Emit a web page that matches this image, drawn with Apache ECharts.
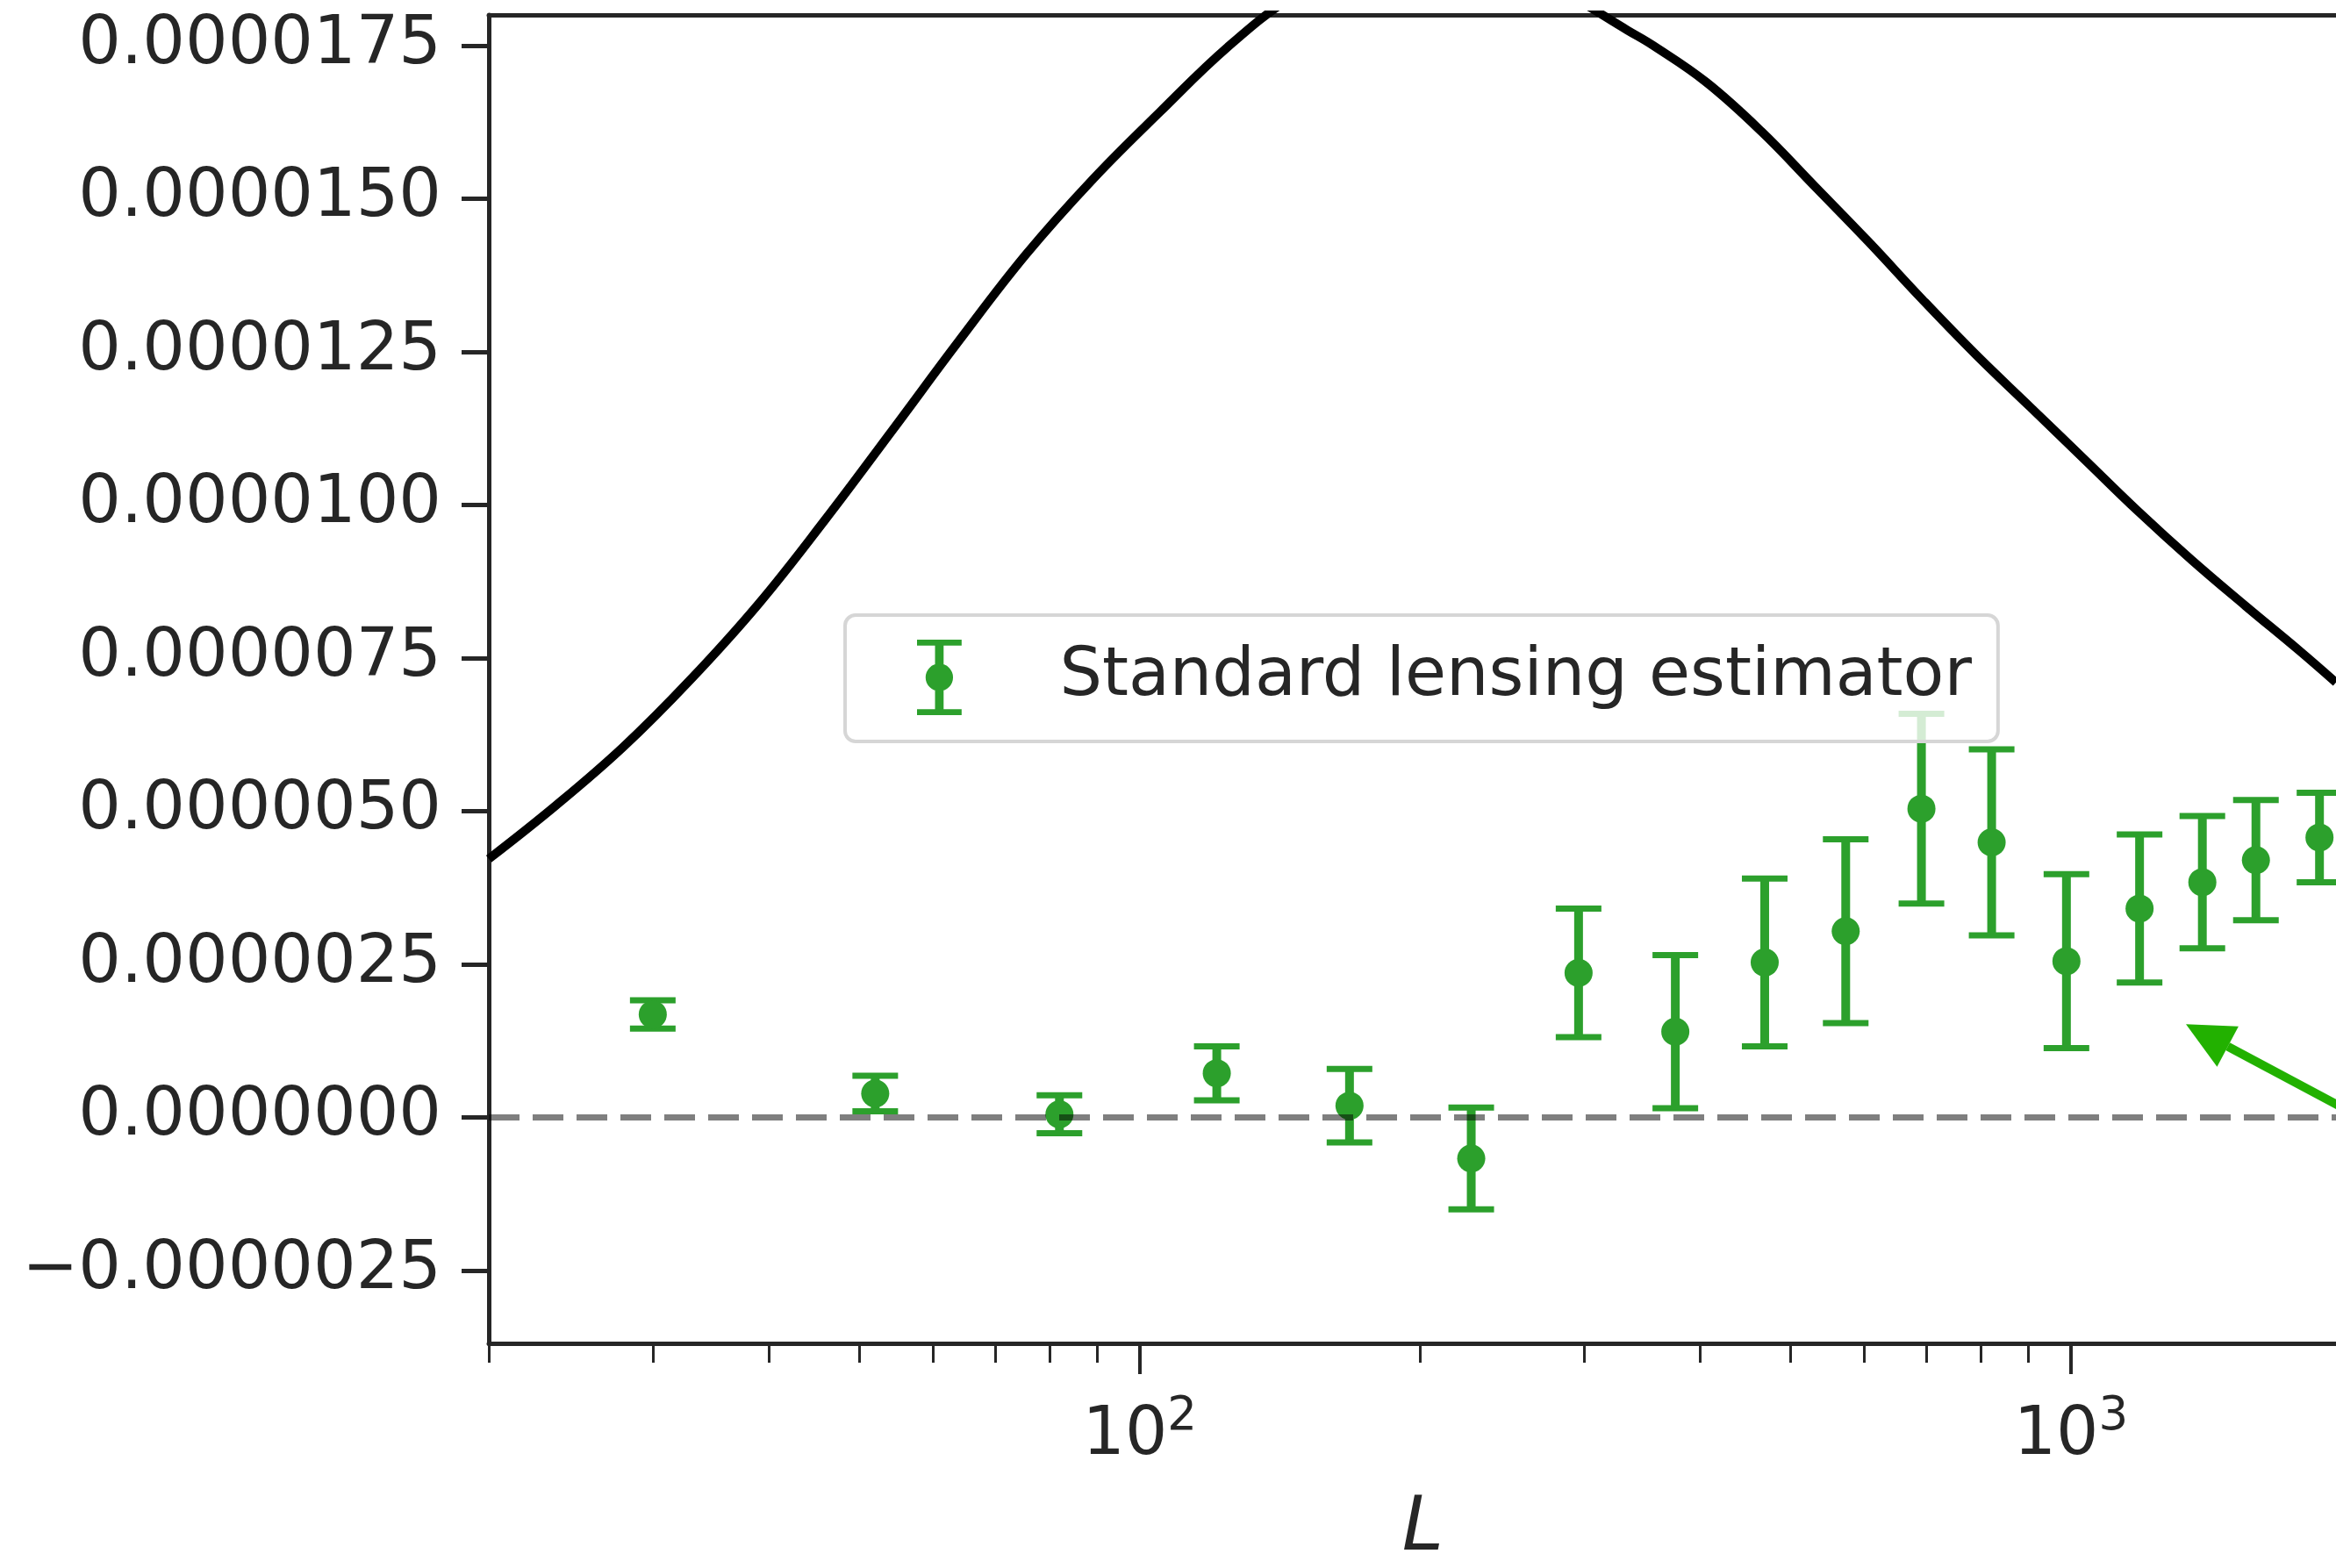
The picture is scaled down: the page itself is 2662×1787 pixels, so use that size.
<!DOCTYPE html>
<html>
<head>
<meta charset="utf-8">
<script src="https://cdn.jsdelivr.net/npm/echarts@6/dist/echarts.min.js"></script>
<style>
  html, body { margin: 0; padding: 0; background: #fff; }
  #chart { width: 2662px; height: 1787px; }
</style>
</head>
<body>
<div id="chart"></div>
<script>
// binned estimator points (multipole L, value, 1-sigma error)
const binL = [30, 52, 82, 121, 168, 227, 296, 376, 469, 573, 691, 822, 989, 1185, 1384, 1580, 1849]
const binValue = [1.68e-6, 0.39e-6, 0.05e-6, 0.72e-6, 0.19e-6, -0.67e-6, 2.36e-6, 1.40e-6, 2.53e-6, 3.04e-6,
  5.04e-6, 4.49e-6, 2.55e-6, 3.41e-6, 3.84e-6, 4.20e-6, 4.57e-6]
const binError = [0.23e-6, 0.29e-6, 0.31e-6, 0.44e-6, 0.60e-6, 0.83e-6, 1.05e-6, 1.25e-6, 1.37e-6, 1.50e-6,
  1.55e-6, 1.52e-6, 1.42e-6, 1.21e-6, 1.08e-6, 0.98e-6, 0.73e-6]

// theory curve
const theoryL = [20, 23.6, 27.9, 32.9, 38.9, 45.9, 54.2, 63.9, 75.5, 89.1, 105.2, 124.2, 146, 172, 203, 240,
  283, 334, 356, 406, 465, 531, 606, 693, 791, 904, 1033, 1180, 1348, 1540, 1759, 1926]
const theoryValue = [4.22e-6, 5.09e-6, 6.05e-6, 7.14e-6, 8.37e-6, 9.75e-6, 11.21e-6, 12.67e-6, 14.09e-6,
  15.32e-6, 16.42e-6, 17.47e-6, 18.3e-6, 18.85e-6, 19.05e-6, 18.9e-6, 18.4e-6, 17.75e-6, 17.5e-6,
  16.9e-6, 16.1e-6, 15.2e-6, 14.3e-6, 13.35e-6, 12.45e-6, 11.6e-6, 10.75e-6, 9.9e-6, 9.1e-6,
  8.35e-6, 7.62e-6, 7.1e-6]

// zero reference line
const zeroL = [20, 1926]
const zeroValue = [0, 0]

// annotation arrow: tip and tail
const arrowTip = [1329, 1.52e-6]
const arrowTail = [3000, -1.34e-6]

const yTicks = [-2.5e-6, 0, 2.5e-6, 5e-6, 7.5e-6, 1e-5, 1.25e-5, 1.5e-5, 1.75e-5]
const xMajorTicks = [100, 1000]
const xMinorTicks = [20, 30, 40, 50, 60, 70, 80, 90, 200, 300, 400, 500, 600, 700, 800, 900]

const legendName = 'Standard lensing estimator'
const green = '#2ca02c'
const arrowGreen = '#22b100'
const ink = '#262626'
const font = 'DejaVu Sans'

// error bar glyph for the legend, all sub-paths clockwise so the fill stays solid
const errorBarIcon = 'path://M0 0H52V7H0Z M21 0H31V88H21Z M0 81H52V88H0Z M10 44A16 16 0 1 1 42 44A16 16 0 1 1 10 44Z'

const chart = echarts.init(document.getElementById('chart'))

const renderErrorBar = (params, api) => {
  const L = api.value(0)
  const v = api.value(1)
  const e = api.value(2)
  const mid = api.coord([L, v])
  const hi = api.coord([L, v + e])
  const lo = api.coord([L, v - e])
  const cap = 26
  return {
    type: 'group',
    children: [
      { type: 'line', shape: { x1: mid[0], y1: hi[1], x2: mid[0], y2: lo[1] }, style: { stroke: green, lineWidth: 10 } },
      { type: 'line', shape: { x1: mid[0] - cap, y1: hi[1], x2: mid[0] + cap, y2: hi[1] }, style: { stroke: green, lineWidth: 7 } },
      { type: 'line', shape: { x1: mid[0] - cap, y1: lo[1], x2: mid[0] + cap, y2: lo[1] }, style: { stroke: green, lineWidth: 7 } },
      { type: 'circle', shape: { cx: mid[0], cy: mid[1], r: 16 }, style: { fill: green } }
    ]
  }
}

const renderArrow = (params, api) => {
  const tip = api.coord([api.value(0), api.value(1)])
  const tail = api.coord([api.value(2), api.value(3)])
  const dx = tail[0] - tip[0]
  const dy = tail[1] - tip[1]
  const len = Math.hypot(dx, dy)
  const ux = dx / len
  const uy = dy / len
  const headLen = 54
  const headHalf = 26
  const base = [tip[0] + ux * headLen, tip[1] + uy * headLen]
  return {
    type: 'group',
    children: [
      { type: 'line', shape: { x1: base[0], y1: base[1], x2: tail[0], y2: tail[1] }, style: { stroke: arrowGreen, lineWidth: 10 } },
      {
        type: 'polygon',
        shape: { points: [tip, [base[0] - uy * headHalf, base[1] + ux * headHalf], [base[0] + uy * headHalf, base[1] - ux * headHalf]] },
        style: { fill: arrowGreen }
      }
    ]
  }
}

const option = {
  backgroundColor: '#ffffff',
  animation: false,
  textStyle: { fontFamily: font },
  grid: { left: 557, right: 0, top: 17, bottom: 256, outerBoundsMode: 'none' },
  legend: {
    data: [{ name: legendName, icon: errorBarIcon }],
    left: 963,
    top: 701,
    padding: [28, 30, 30, 82],
    itemWidth: 52,
    itemHeight: 86,
    backgroundColor: 'rgba(255,255,255,0.8)',
    borderColor: '#d6d6d6',
    borderWidth: 4,
    borderRadius: 12,
    textStyle: { fontFamily: font, fontSize: 76.5, color: ink, padding: [4, 0, 0, 106] },
    z: 10
  },
  xAxis: [
    {
      type: 'log',
      logBase: 10,
      min: 20,
      max: 1926,
      position: 'bottom',
      name: 'L',
      nameLocation: 'middle',
      nameGap: 170,
      nameTextStyle: { fontFamily: font, fontSize: 85, fontStyle: 'italic', color: ink, padding: [0, 0, 0, 24] },
      axisLine: { show: true, onZero: false, lineStyle: { color: ink, width: 5 } },
      axisTick: { show: true, customValues: xMajorTicks, length: 35, lineStyle: { color: ink, width: 4 } },
      axisLabel: {
        customValues: xMajorTicks,
        margin: 58,
        formatter: v => '{b|10}{s|' + Math.round(Math.log10(v)) + '}',
        rich: {
          b: { fontFamily: font, fontSize: 76, color: ink },
          s: { fontFamily: font, fontSize: 53, color: ink, padding: [0, 0, 44, 0] }
        }
      },
      splitLine: { show: false }
    },
    {
      type: 'log',
      logBase: 10,
      min: 20,
      max: 1926,
      position: 'bottom',
      axisLine: { show: false, onZero: false },
      axisTick: { show: true, customValues: xMinorTicks, length: 22, lineStyle: { color: ink, width: 3 } },
      axisLabel: { show: false },
      splitLine: { show: false }
    },
    {
      type: 'value',
      min: 0,
      max: 1,
      position: 'top',
      axisLine: { show: true, onZero: false, lineStyle: { color: ink, width: 5 } },
      axisTick: { show: false },
      axisLabel: { show: false },
      splitLine: { show: false }
    }
  ],
  yAxis: {
    type: 'value',
    min: -3.69e-6,
    max: 1.8e-5,
    axisLine: { show: true, onZero: false, lineStyle: { color: ink, width: 5 } },
    axisTick: { show: true, customValues: yTicks, length: 31, lineStyle: { color: ink, width: 5 } },
    axisLabel: {
      customValues: yTicks,
      margin: 54,
      fontFamily: font,
      fontSize: 76.5,
      color: ink,
      padding: [18, 0, 0, 0],
      formatter: v => (v < 0 ? '\u2212' : '') + Math.abs(v).toFixed(7)
    },
    splitLine: { show: false }
  },
  series: [
    {
      name: 'theory',
      type: 'line',
      data: theoryL.map((L, i) => [L, theoryValue[i]]),
      showSymbol: false,
      smooth: 0.4,
      clip: true,
      lineStyle: { color: '#000000', width: 10 },
      z: 2
    },
    {
      name: legendName,
      type: 'custom',
      data: binL.map((L, i) => [L, binValue[i], binError[i]]),
      encode: { x: 0, y: 1 },
      renderItem: renderErrorBar,
      itemStyle: { color: green },
      z: 3
    },
    {
      name: 'zero',
      type: 'line',
      data: zeroL.map((L, i) => [L, zeroValue[i]]),
      showSymbol: false,
      lineStyle: { color: 'rgba(0,0,0,0.5)', width: 7, type: [35, 15] },
      z: 4
    },
    {
      name: 'arrow',
      type: 'custom',
      data: [[arrowTip[0], arrowTip[1], arrowTail[0], arrowTail[1]]],
      encode: { x: [0, 2], y: [1, 3] },
      renderItem: renderArrow,
      z: 4
    }
  ]
}

chart.setOption(option)
</script>
</body>
</html>
